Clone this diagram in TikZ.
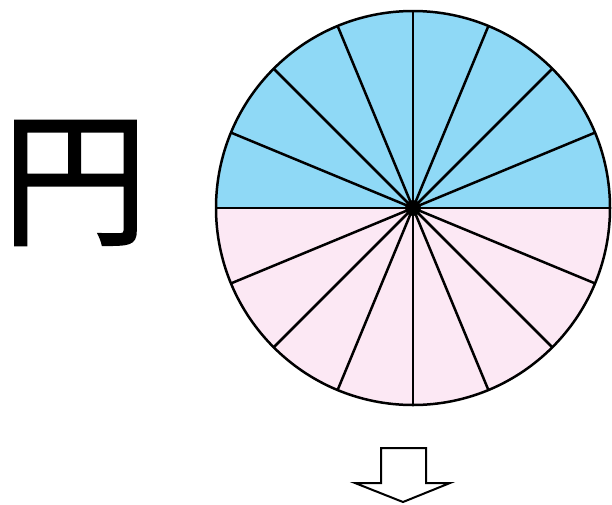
\documentclass[tikz,border=0pt]{standalone}
\usepackage{fontspec}
\newfontfamily\cjk[FakeBold=1.5]{Noto Sans CJK JP}
\definecolor{topblue}{HTML}{8FD9F6}
\definecolor{botpink}{HTML}{FCE8F4}
\begin{document}
\begin{tikzpicture}[x=1pt,y=-1pt,
  spoke/.style={draw=black,line width=2.5pt},
  rim/.style={draw=black,line width=2.5pt},
  bigchar/.style={inner sep=0pt,anchor=center,font=\cjk\fontsize{146}{146}\selectfont},
  hollowarrow/.style={draw=black,line width=2pt,fill=white,line join=miter}]
\useasboundingbox (0,0) rectangle (612,504);
\coordinate (c) at (413,208);
\fill[topblue] (c) ++(197,0) arc[start angle=0,end angle=-180,radius=197] -- cycle;
\fill[botpink] (c) ++(197,0) arc[start angle=0,end angle=180,radius=197] -- cycle;
\foreach \a in {0,22.5,...,337.5}{
  \draw[spoke] (c) -- ++(\a:197);
}
\draw[rim] (c) circle[radius=197];
\fill[black] (c) circle[radius=8];
\node[bigchar] (en) at (75,183) {円};
\draw[hollowarrow] (381,448) -- (426,448) -- (426,483) -- (450,483) -- (403,502) -- (355,483) -- (381,483) -- cycle;
\end{tikzpicture}
\end{document}
